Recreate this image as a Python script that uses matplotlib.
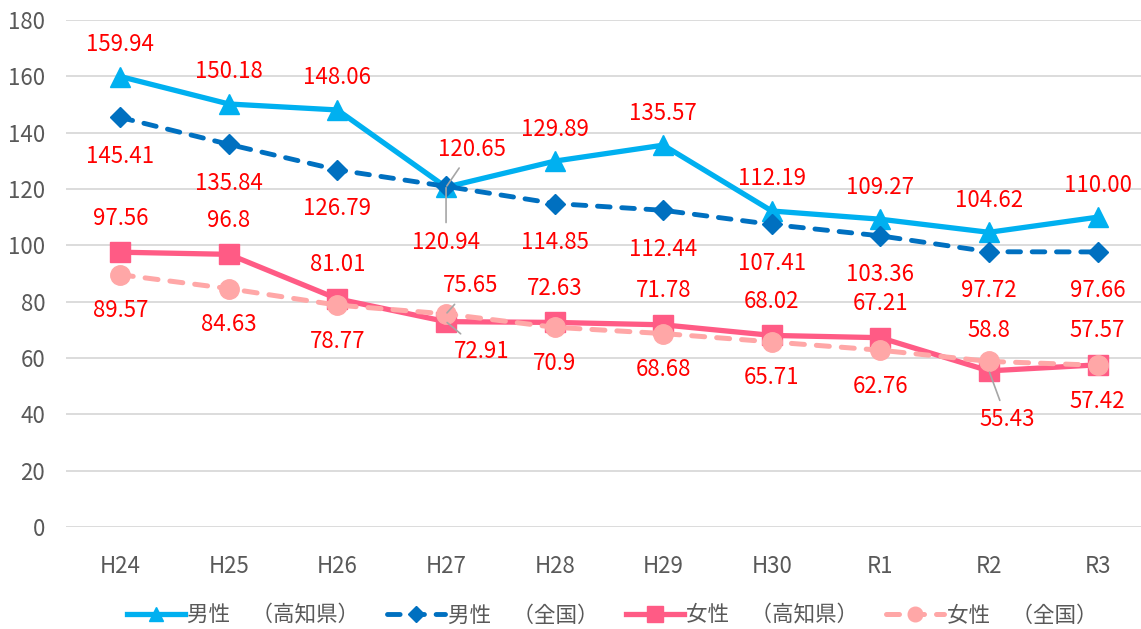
import numpy as np
import matplotlib
matplotlib.use('Agg')
from matplotlib import pyplot as plt

plt.rcParams['font.family'] = ['Noto Sans CJK JP', 'DejaVu Sans']

# data
years = ['H24', 'H25', 'H26', 'H27', 'H28', 'H29', 'H30', 'R1', 'R2', 'R3']
male_kochi = [159.94, 150.18, 148.06, 120.65, 129.89, 135.57, 112.19, 109.27, 104.62, 110.00]
male_all = [145.41, 135.84, 126.79, 120.94, 114.85, 112.44, 107.41, 103.36, 97.72, 97.66]
female_kochi = [97.56, 96.8, 81.01, 72.91, 72.63, 71.78, 68.02, 67.21, 55.43, 57.57]
female_all = [89.57, 84.63, 78.77, 75.65, 70.9, 68.68, 65.71, 62.76, 58.8, 57.42]
male_kochi_txt = ['159.94', '150.18', '148.06', '120.65', '129.89', '135.57', '112.19', '109.27', '104.62', '110.00']
male_all_txt = ['145.41', '135.84', '126.79', '120.94', '114.85', '112.44', '107.41', '103.36', '97.72', '97.66']
female_kochi_txt = ['97.56', '96.8', '81.01', '72.91', '72.63', '71.78', '68.02', '67.21', '55.43', '57.57']
female_all_txt = ['89.57', '84.63', '78.77', '75.65', '70.9', '68.68', '65.71', '62.76', '58.8', '57.42']

c1 = '#00B0F0'
c2 = '#0070C0'
c3 = '#FF5B85'
c4 = '#FFA7A7'
gray = '#595959'

fig = plt.figure(figsize=(11.41, 6.29), dpi=100)
ax = fig.add_axes([66/1141, 1-527/629, 1-66/1141, 507/629])
x = np.arange(len(years))

dash = (0, (2.6, 2.4))
ax.plot(x, male_kochi, color=c1, lw=3.8, marker='^', ms=14, label='男性　（高知県）', zorder=4)
ax.plot(x, male_all, color=c2, lw=3.5, ls=dash, dash_capstyle='round', marker='D', ms=10.5,
        label='男性　（全国）', zorder=5)
ax.plot(x, female_kochi, color=c3, lw=3.8, marker='s', ms=14.5, label='女性　（高知県）', zorder=4)
ax.plot(x, female_all, color=c4, lw=3.6, ls=dash, dash_capstyle='round', marker='o', ms=14,
        label='女性　（全国）', zorder=5)

fs = 16
red = '#FF0000'
# data labels, default offset (px) and special ones with leader lines
def put(vals, txts, dy, special=None, plain=None):
    for i, (v, t) in enumerate(zip(vals, txts)):
        off = (0, dy)
        ap = None
        if plain and i in plain:
            off = plain[i]
        if special and i in special:
            off = special[i]
            ap = dict(arrowstyle='-', color='#A6A6A6', lw=1.2, shrinkA=4, shrinkB=1)
        ax.annotate(t, (x[i], v), xytext=off, textcoords='offset pixels',
                    ha='center', va='center', color=red, fontsize=fs,
                    arrowprops=ap, zorder=6)

put(male_kochi, male_kochi_txt, 32, {3: (26, 38)})
put(male_all, male_all_txt, -39, {3: (0, -56)})
put(female_kochi, female_kochi_txt, 34, {3: (36, -30), 8: (18, -49)})
put(female_all, female_all_txt, -36, {3: (25, 28)}, {8: (0, 31)})

ax.set_xlim(-0.5, 9.4)
ax.set_ylim(0, 180)
ax.set_yticks(range(0, 181, 20))
ax.set_xticks(x)
ax.set_xticklabels(years)
ax.grid(axis='y', color='#D9D9D9', lw=1.3)
ax.set_axisbelow(True)
for s in ax.spines.values():
    s.set_visible(False)
ax.tick_params(length=0, labelsize=fs, colors=gray)
ax.tick_params(axis='x', pad=20)
ax.tick_params(axis='y', pad=15)

leg = ax.legend(loc='center', bbox_to_anchor=(0.508, -0.175), ncol=4, frameon=False,
                fontsize=15.5, handlelength=2.7, columnspacing=1.3, handletextpad=0.1,
                markerscale=0.75)
for t in leg.get_texts():
    t.set_color(gray)

plt.savefig('out.png', dpi=100)
